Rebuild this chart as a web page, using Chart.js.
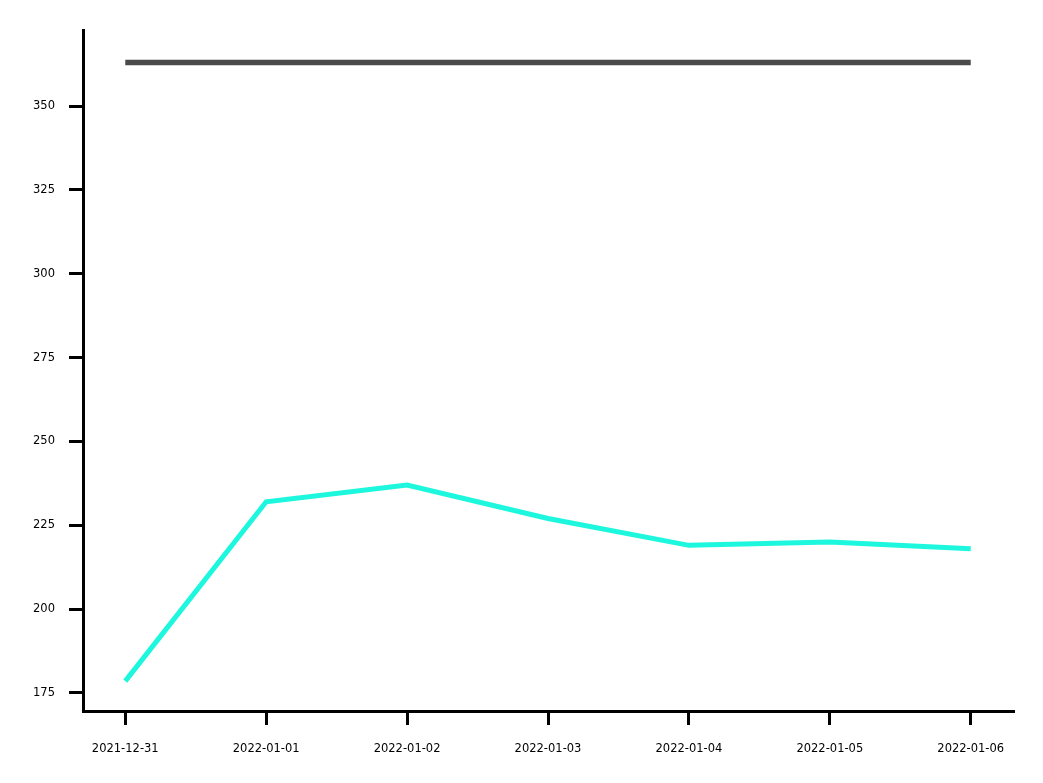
<!DOCTYPE html>
<html>
<head>
<meta charset="utf-8">
<script src="https://cdn.jsdelivr.net/npm/chart.js@4.4.0/dist/chart.umd.min.js"></script>
<style>
  html, body { margin: 0; padding: 0; background: #fff; }
  #wrap { width: 1043px; height: 783px; }
</style>
</head>
<body>
<div id="wrap"><canvas id="chart" width="1043" height="783"></canvas></div>
<script>
const dates = ['2021-12-31', '2022-01-01', '2022-01-02', '2022-01-03', '2022-01-04', '2022-01-05', '2022-01-06'];
const topLine = [363, 363, 363, 363, 363, 363, 363];
const cyanLine = [178.5, 232, 237, 227, 219, 220, 218];
const yTicks = [175, 200, 225, 250, 275, 300, 325, 350];

const toPoints = arr => arr.map((v, i) => ({ x: i, y: v }));

const ctx = document.getElementById('chart').getContext('2d');
new Chart(ctx, {
  type: 'line',
  data: {
    datasets: [
      {
        data: toPoints(topLine),
        borderColor: '#4a4a4a',
        borderWidth: 5.5,
        pointRadius: 0,
        borderCapStyle: 'butt'
      },
      {
        data: toPoints(cyanLine),
        borderColor: '#1cf7dd',
        borderWidth: 5,
        pointRadius: 0,
        borderCapStyle: 'butt',
        borderJoinStyle: 'miter'
      }
    ]
  },
  options: {
    responsive: false,
    animation: false,
    layout: { padding: { top: 30, right: 30, left: 0, bottom: 0 } },
    plugins: { legend: { display: false }, tooltip: { enabled: false } },
    scales: {
      x: {
        type: 'linear',
        min: -0.3,
        max: 6.3,
        afterBuildTicks: s => { s.ticks = dates.map((d, i) => ({ value: i })); },
        afterFit: s => { s.height = 72; },
        ticks: {
          callback: (v) => dates[v],
          color: '#000',
          font: { family: 'DejaVu Sans', size: 11.5 },
          padding: 17,
          maxRotation: 0,
          autoSkip: false
        },
        grid: { display: true, drawOnChartArea: false, drawTicks: true, tickLength: 14, color: '#000', lineWidth: 3 },
        border: { display: true, color: '#000', width: 3 }
      },
      y: {
        type: 'linear',
        min: 169.6,
        max: 372.7,
        afterBuildTicks: s => { s.ticks = yTicks.map(v => ({ value: v })); },
        afterFit: s => { s.width = 83; },
        ticks: {
          color: '#000',
          font: { family: 'DejaVu Sans', size: 11.5 },
          padding: 14
        },
        grid: { display: true, drawOnChartArea: false, drawTicks: true, tickLength: 14, color: '#000', lineWidth: 3 },
        border: { display: true, color: '#000', width: 3 }
      }
    }
  }
});
</script>
</body>
</html>
